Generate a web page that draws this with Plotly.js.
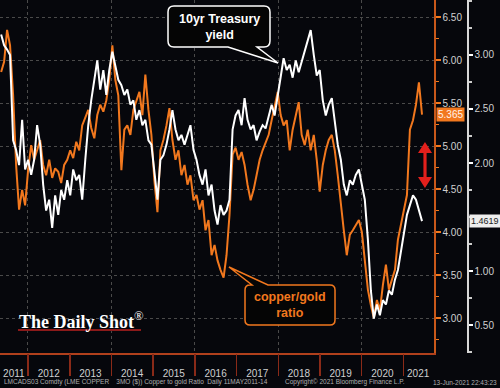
<!DOCTYPE html>
<html>
<head>
<meta charset="utf-8">
<script src="https://cdn.plot.ly/plotly-3.0.1.min.js"></script>
<style>html,body{margin:0;padding:0;background:#06070c;}#chart{width:500px;height:388px;}</style>
</head>
<body>
<div id="chart"></div>
<script>
// Date span of the series (Bloomberg daily, sampled)
const startDate = '2011-05-11';
const endDate = '2021-06-13';

// Copper to gold ratio (orange, inner right axis)
const copperGold = [5.86,5.98,6.35,6.17,5.59,4.78,4.26,4.49,4.31,4.72,5.01,4.84,4.95,5.07,4.78,4.66,4.84,4.63,4.74,4.70,
4.57,4.78,4.84,4.95,4.86,5.05,4.95,5.24,5.33,5.42,5.21,5.09,5.36,5.48,5.40,5.53,5.77,6.17,5.77,5.59,
4.72,5.19,5.24,5.13,5.42,5.53,5.63,5.36,5.83,5.42,5.13,4.60,4.23,4.95,5.07,5.24,5.44,5.07,4.84,4.95,
4.66,4.78,4.55,4.66,4.37,4.43,4.26,4.37,4.02,4.14,3.73,3.85,3.67,3.56,3.47,3.73,4.20,4.90,4.98,4.84,
4.93,4.78,4.55,4.37,4.49,4.66,4.84,4.95,5.05,5.13,5.30,5.48,5.63,5.36,5.24,5.30,4.95,5.19,5.36,5.51,
5.13,5.01,5.19,4.95,5.13,4.84,4.47,4.78,4.95,5.07,5.13,4.95,4.66,4.31,4.02,3.73,3.97,4.02,4.08,4.14,
4.00,3.67,3.33,3.15,3.00,3.21,3.09,3.38,3.62,3.33,3.44,3.56,3.91,4.08,4.26,4.43,5.19,5.30,5.48,5.74,5.365];

// US 10yr Treasury yield (white, outer right axis)
const tsy10 = [3.19,3.09,3.05,3.00,2.21,2.12,1.98,2.40,1.94,2.03,1.89,2.03,2.35,2.17,1.80,1.56,1.66,1.40,1.70,1.52,
1.75,1.66,1.84,1.70,1.94,1.84,1.89,1.66,2.03,2.35,2.58,2.77,2.95,2.68,2.86,2.63,2.86,3.03,2.91,2.77,
2.72,2.63,2.68,2.54,2.58,2.40,2.49,2.35,2.40,2.21,2.17,1.89,1.66,2.03,2.07,2.17,2.31,2.49,2.31,2.21,
2.26,2.17,2.26,2.35,2.12,2.03,1.89,1.80,1.94,1.70,1.80,1.56,1.43,1.61,1.52,1.56,1.66,2.31,2.44,2.49,
2.35,2.60,2.40,2.31,2.35,2.21,2.29,2.35,2.32,2.42,2.54,2.44,2.63,2.81,2.97,2.86,2.91,2.79,2.95,2.84,
2.94,3.05,3.14,3.23,3.00,2.81,2.86,2.58,2.44,2.54,2.60,2.40,2.17,2.03,1.80,1.70,1.84,1.80,1.89,1.94,
1.80,1.66,1.29,0.82,0.56,0.69,0.59,0.73,0.69,0.82,0.78,0.92,1.01,1.19,1.38,1.52,1.61,1.70,1.66,1.56,1.4619];

const lastCopperGold = '5.365';
const lastTsy = '1.4619';

// Year tick labels (centred on the visible part of each year)
const yearLabels = ['2011','2012','2013','2014','2015','2016','2017','2018','2019','2020','2021'];
const yearLabelDates = ['2011-08-30','2012-07-01','2013-07-01','2014-07-01','2015-07-01','2016-07-01',
  '2017-07-01','2018-07-01','2019-07-01','2020-07-01','2021-05-10'];
const orangeTicks = [3.0, 3.5, 4.0, 4.5, 5.0, 5.5, 6.0, 6.5];
const whiteTicks = [0.5, 1.0, 2.0, 2.5, 3.0];

// dates evenly spread across the sampled span
const t0 = new Date(startDate + 'T00:00:00Z').getTime();
const t1 = new Date(endDate + 'T00:00:00Z').getTime();
const n = copperGold.length;
const dates = [];
for (let i = 0; i < n; i++) {
  dates.push(new Date(t0 + (t1 - t0) * i / (n - 1)).toISOString().slice(0, 10));
}

const ORANGE = '#f2781e';
const W = 475, H = 353; // paper area in px
function P(x, y) { return (x / W).toFixed(4) + ',' + (1 - y / H).toFixed(4); }
function px(x) { return x / W; }
function py(y) { return 1 - y / H; }

function box1() { // 10yr callout, tail at bottom
  const x0 = 168, y0 = 6, x1 = 270, y1 = 47, r = 6;
  return 'M' + P(x0 + r, y0) + ' L' + P(x1 - r, y0) + ' Q' + P(x1, y0) + ' ' + P(x1, y0 + r) +
    ' L' + P(x1, y1 - r) + ' Q' + P(x1, y1) + ' ' + P(x1 - r, y1) +
    ' L' + P(257, y1) + ' L' + P(278, 63) + ' L' + P(228, y1) +
    ' L' + P(x0 + r, y1) + ' Q' + P(x0, y1) + ' ' + P(x0, y1 - r) +
    ' L' + P(x0, y0 + r) + ' Q' + P(x0, y0) + ' ' + P(x0 + r, y0) + ' Z';
}
function box2() { // copper/gold callout, tail at top-left
  const x0 = 245, y0 = 285, x1 = 335, y1 = 325, r = 5;
  return 'M' + P(x0 + r, y0) + ' L' + P(252, y0) + ' L' + P(229, 267) + ' L' + P(268, y0) +
    ' L' + P(x1 - r, y0) + ' Q' + P(x1, y0) + ' ' + P(x1, y0 + r) +
    ' L' + P(x1, y1 - r) + ' Q' + P(x1, y1) + ' ' + P(x1 - r, y1) +
    ' L' + P(x0 + r, y1) + ' Q' + P(x0, y1) + ' ' + P(x0, y1 - r) +
    ' L' + P(x0, y0 + r) + ' Q' + P(x0, y0) + ' ' + P(x0 + r, y0) + ' Z';
}
function redArrow() {
  return 'M' + P(425, 142) + ' L' + P(432, 153) + ' L' + P(426.6, 153) + ' L' + P(426.6, 177) +
    ' L' + P(432, 177) + ' L' + P(425, 188) + ' L' + P(418, 177) + ' L' + P(423.4, 177) +
    ' L' + P(423.4, 153) + ' L' + P(418, 153) + ' Z';
}

const traces = [
  {x: dates, y: copperGold, type: 'scatter', mode: 'lines', xaxis: 'x', yaxis: 'y',
   line: {color: ORANGE, width: 2}, hoverinfo: 'skip'},
  {x: dates, y: tsy10, type: 'scatter', mode: 'lines', xaxis: 'x2', yaxis: 'y2',
   line: {color: '#ffffff', width: 2}, hoverinfo: 'skip'}
];

const xr = ['2011-05-01', '2021-09-26'];
const dom = [0, 434 / W];
const FONT = 'Arial, "Liberation Sans", sans-serif';

const layout = {
  width: 500, height: 388,
  margin: {l: 0, r: 25, t: 0, b: 35},
  paper_bgcolor: '#06070c', plot_bgcolor: '#06070c',
  showlegend: false,
  font: {family: FONT, color: '#cfcfcf', size: 10},
  xaxis: {
    type: 'date', range: xr, domain: dom,
    tickmode: 'array', tickvals: yearLabelDates, ticktext: yearLabels,
    ticks: 'outside', ticklen: 10, tickcolor: 'rgba(0,0,0,0)',
    showgrid: false, zeroline: false,
    showline: true, linecolor: '#b0401c', linewidth: 1.5,
    tickfont: {size: 10, color: '#d0d0d0', family: FONT}
  },
  xaxis2: {
    type: 'date', range: xr, domain: dom, overlaying: 'x', anchor: 'y2', side: 'bottom',
    dtick: 'M24', tick0: '2012-01-01',
    ticks: 'outside', ticklen: 22, tickcolor: '#8a2a18', tickwidth: 1.5,
    minor: {dtick: 'M12', ticks: 'outside', ticklen: 22, tickcolor: '#8a2a18', tickwidth: 1.5, showgrid: false},
    showgrid: true, griddash: 'dot', gridcolor: '#4a4a4a', gridwidth: 1,
    showticklabels: false, showline: false, zeroline: false
  },
  yaxis: {
    range: [2.593, 6.698], side: 'right', anchor: 'x',
    tickmode: 'array', tickvals: orangeTicks, tickformat: '.2f',
    ticks: 'outside', ticklen: 5, tickcolor: ORANGE, tickwidth: 1.5,
    minor: {tickmode: 'linear', tick0: 0.25, dtick: 0.25, ticks: 'outside', ticklen: 3, tickcolor: ORANGE, showgrid: false},
    showgrid: true, griddash: 'dot', gridcolor: '#4a4a4a', gridwidth: 1,
    zeroline: false, showline: true, linecolor: '#c8581a', linewidth: 1.5,
    tickfont: {size: 10, color: '#d0d0d0', family: FONT}
  },
  yaxis2: {
    range: [0.241, 3.509], side: 'right', overlaying: 'y', anchor: 'free', position: 467 / W,
    tickmode: 'array', tickvals: whiteTicks, tickformat: '.2f',
    ticks: 'outside', ticklen: 4, tickcolor: '#ffffff', tickwidth: 1.5,
    minor: {tickmode: 'linear', tick0: 0.25, dtick: 0.25, ticks: 'outside', ticklen: 3, tickcolor: '#cccccc', showgrid: false},
    showgrid: false, zeroline: false, showline: true, linecolor: '#d8d8d8', linewidth: 1.5,
    tickfont: {size: 10, color: '#d0d0d0', family: FONT}
  },
  shapes: [
    {type: 'path', xref: 'paper', yref: 'paper', path: box1(), fillcolor: '#050505',
     line: {color: '#ffffff', width: 1.5}, layer: 'above'},
    {type: 'path', xref: 'paper', yref: 'paper', path: box2(), fillcolor: '#050505',
     line: {color: ORANGE, width: 1.5}, layer: 'above'},
    {type: 'path', xref: 'paper', yref: 'paper', path: redArrow(), fillcolor: '#e3201c',
     line: {width: 0}, layer: 'above'},
    {type: 'line', xref: 'paper', yref: 'paper', x0: px(18), x1: px(141), y0: py(330), y1: py(330),
     line: {color: '#8b1a1a', width: 2}, layer: 'above'}
  ],
  annotations: [
    {xref: 'paper', yref: 'paper', x: px(219), y: py(27), xanchor: 'center', yanchor: 'middle',
     text: '<b>10yr Treasury</b><br><b>yield</b>',
     showarrow: false, font: {family: FONT, size: 12.5, color: '#ffffff'}, align: 'center'},
    {xref: 'paper', yref: 'paper', x: px(290), y: py(305), xanchor: 'center', yanchor: 'middle',
     text: '<b>copper/gold</b><br><b>ratio</b>',
     showarrow: false, font: {family: FONT, size: 12.5, color: ORANGE}, align: 'center'},
    {xref: 'paper', yref: 'paper', x: px(17), y: py(320), xanchor: 'left', yanchor: 'middle',
     text: '<b>The Daily Shot</b><sup>®</sup>', showarrow: false,
     font: {family: '"Liberation Serif", "DejaVu Serif", serif', size: 18, color: '#ffffff'}},
    {xref: 'paper', yref: 'y', x: px(436), y: parseFloat(lastCopperGold), xanchor: 'left', yanchor: 'middle',
     text: lastCopperGold, showarrow: false, bgcolor: ORANGE, borderpad: 1,
     font: {family: FONT, size: 10, color: '#fff3ea'}},
    {xref: 'paper', yref: 'y2', x: px(469), y: parseFloat(lastTsy), xanchor: 'left', yanchor: 'middle',
     text: lastTsy, showarrow: false, bgcolor: '#eeeeee', borderpad: 1,
     font: {family: FONT, size: 9, color: '#222222'}},
    {xref: 'paper', yref: 'paper', x: px(2), y: py(382), xanchor: 'left', yanchor: 'middle',
     text: 'LMCADS03 Comdty (LME COPPER    3MO ($)) Copper to gold Ratio  Daily 11MAY2011-14',
     showarrow: false, font: {family: FONT, size: 6.5, color: '#b0b0b0'}},
    {xref: 'paper', yref: 'paper', x: px(283), y: py(382), xanchor: 'left', yanchor: 'middle',
     text: 'Copyright© 2021 Bloomberg Finance L.P.',
     showarrow: false, font: {family: FONT, size: 6.5, color: '#b0b0b0'}},
    {xref: 'paper', yref: 'paper', x: px(499), y: py(382), xanchor: 'right', yanchor: 'middle',
     text: '13-Jun-2021 22:43:23',
     showarrow: false, font: {family: FONT, size: 6.5, color: '#b0b0b0'}}
  ]
};

Plotly.newPlot('chart', traces, layout, {staticPlot: true, displayModeBar: false});
</script>
</body>
</html>
